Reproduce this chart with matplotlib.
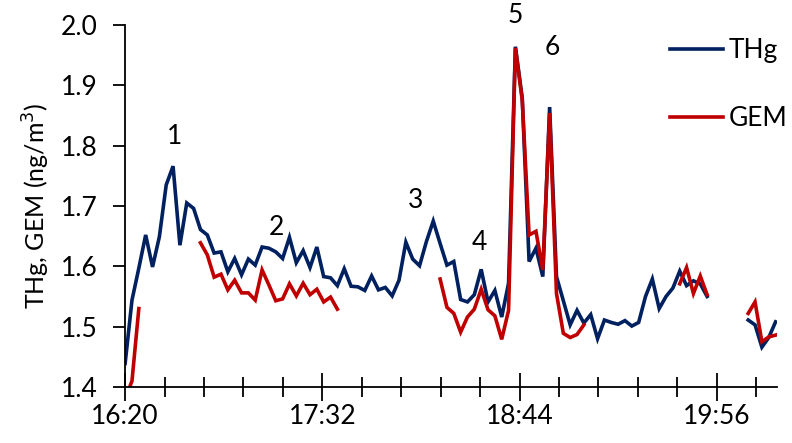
import numpy as np
import matplotlib
matplotlib.use("Agg")
from matplotlib import pyplot as plt
from matplotlib.ticker import MultipleLocator, FuncFormatter

plt.rcParams['font.family'] = ['Lato', 'DejaVu Sans']

nan = np.nan

# sampling every 2.5 min starting at 16:20
start_min = 16 * 60 + 20
step_min = 2.5

thg = [1.439, 1.544, 1.597, 1.652, 1.599, 1.649, 1.735, 1.766, 1.635, 1.705,
       1.696, 1.661, 1.652, 1.622, 1.624, 1.591, 1.613, 1.586, 1.612, 1.602,
       1.632, 1.630, 1.624, 1.613, 1.648, 1.606, 1.626, 1.598, 1.632, 1.583,
       1.581, 1.568, 1.596, 1.567, 1.566, 1.560, 1.584, 1.561, 1.565, 1.551,
       1.577, 1.640, 1.612, 1.601, 1.641, 1.675, 1.638, 1.602, 1.608, 1.545,
       1.541, 1.553, 1.595, 1.541, 1.560, 1.516, 1.572, 1.964, 1.879, 1.608,
       1.630, 1.583, 1.864, 1.583, 1.543, 1.503, 1.527, 1.506, 1.520, 1.480,
       1.511, 1.507, 1.504, 1.510, 1.501, 1.507, 1.550, 1.579, 1.530, 1.550,
       1.564, 1.592, 1.568, 1.576, 1.571, 1.550, nan, nan, nan, nan,
       nan, 1.511, 1.503, 1.466, 1.482, 1.508]

gem = [1.380, 1.410, 1.530, nan, nan, nan, nan, nan, nan, nan,
       nan, 1.639, 1.619, 1.582, 1.587, 1.561, 1.577, 1.556, 1.556, 1.544,
       1.594, 1.569, 1.543, 1.546, 1.571, 1.551, 1.572, 1.553, 1.562, 1.541,
       1.549, 1.529, nan, nan, nan, nan, nan, nan, nan, nan,
       nan, nan, nan, nan, nan, nan, 1.579, 1.532, 1.522, 1.491,
       1.516, 1.529, 1.562, 1.528, 1.518, 1.479, 1.527, 1.962, 1.875, 1.652,
       1.658, 1.594, 1.854, 1.555, 1.489, 1.482, 1.487, 1.503, nan, nan,
       nan, nan, nan, nan, nan, nan, nan, nan, nan, nan,
       nan, 1.571, 1.598, 1.555, 1.584, 1.553, nan, nan, nan, nan,
       nan, 1.522, 1.541, 1.475, 1.483, 1.486]

# numbered events: (minutes after 16:20, level)
event_labels = ['1', '2', '3', '4', '5', '6']
event_t = [18.1, 55.3, 106.2, 129.4, 142.5, 156.1]
event_v = [1.815, 1.664, 1.709, 1.640, 2.015, 1.962]

t = np.arange(len(thg)) * step_min

fig = plt.figure(figsize=(7.92, 4.43), dpi=100)
ax = fig.add_axes([0.158, 0.1264, 0.823, 0.8172])

ax.plot(t, thg, color='#002060', lw=2.6, label='THg', solid_joinstyle='miter')
ax.plot(t, gem, color='#C00000', lw=2.6, label='GEM', solid_joinstyle='miter')

for lab, x, y in zip(event_labels, event_t, event_v):
    ax.text(x, y, lab, fontsize=19, ha='center', va='center', clip_on=False)

ax.set_xlim(0, 238)
ax.set_ylim(1.4, 2.0)
ax.xaxis.set_major_locator(MultipleLocator(72))
ax.xaxis.set_minor_locator(MultipleLocator(14.4))
ax.yaxis.set_major_locator(MultipleLocator(0.1))


def hhmm(x, pos):
    m = int(round(start_min + x))
    return f'{m // 60}:{m % 60:02d}'


ax.xaxis.set_major_formatter(FuncFormatter(hhmm))
ax.yaxis.set_major_formatter(FuncFormatter(lambda v, p: f'{v:.1f}'))

ax.tick_params(axis='x', which='major', direction='inout', length=20, width=1.3,
               labelsize=19, pad=2)
ax.tick_params(axis='x', which='minor', direction='inout', length=14, width=1.3)
ax.tick_params(axis='y', which='major', direction='out', length=9, width=1.3,
               labelsize=19, pad=11)

for s in ['top', 'right']:
    ax.spines[s].set_visible(False)
for s in ['left', 'bottom']:
    ax.spines[s].set_linewidth(1.3)

ax.set_ylabel('THg, GEM (ng/m$^3$)', fontsize=18, labelpad=6)

ax.legend(loc='upper left', bbox_to_anchor=(0.80, 1.03), frameon=False,
          fontsize=19, handlelength=2.0, handletextpad=0.2, labelspacing=1.65)

fig.savefig('out.png', dpi=100)
